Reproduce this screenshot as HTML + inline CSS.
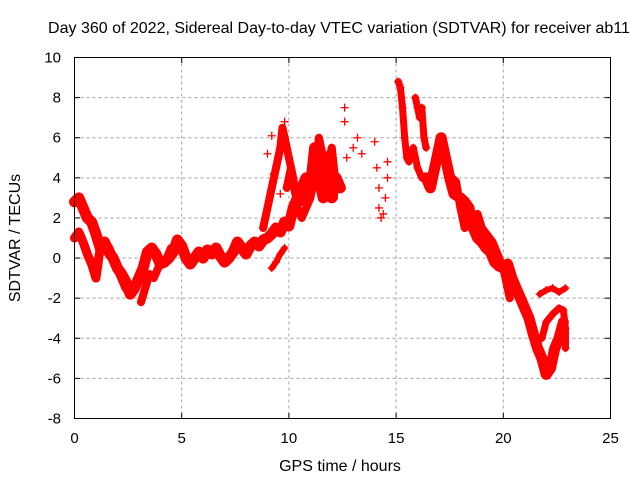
<!DOCTYPE html>
<html><head><meta charset="utf-8"><style>
body{margin:0;background:#fff}
svg{display:block;font-family:"Liberation Sans",sans-serif}
</style></head><body>
<svg id="chart" width="640" height="480">
<text x="339" y="33" text-anchor="middle" font-size="16">Day 360 of 2022, Sidereal Day-to-day VTEC variation (SDTVAR) for receiver ab11</text>
<text x="340" y="471" text-anchor="middle" font-size="16">GPS time / hours</text>
<text transform="translate(20,238) rotate(-90)" text-anchor="middle" font-size="16">SDTVAR / TECUs</text>
<g id="grid"></g>
<g id="ticks"></g>
<g id="marks"></g>
<rect x="74.5" y="57.5" width="536" height="361" fill="none" stroke="#000"/>
</svg>
<script>
const xTicks=[0,5,10,15,20,25];
const yTicks=[-8,-6,-4,-2,0,2,4,6,8,10];
const tA=[0,0.2,0.4,0.6,0.8,1.0,1.2,1.4,1.6,1.8,2.0,2.2,2.4,2.6,2.8,3.0,3.2,3.4,3.6,3.8,4.0,4.2,4.4,4.6,4.8,5.0,5.2,5.4,5.6,5.8,6.0,6.2,6.4,6.6,6.8,7.0,7.2,7.4,7.6,7.8,8.0,8.2,8.4,8.6,8.8,9.0,9.2,9.4,9.6,9.8,10.0,10.2,10.4,10.6,10.8,11.0,11.2,11.4,11.6,11.8,12.0,12.2,12.4];
const vA=[2.8,3.0,2.5,2.0,1.8,1.2,0.5,0.8,0.3,0,-0.5,-0.8,-1.2,-1.8,-1.5,-1.0,-0.5,0.3,0.5,0.2,-0.3,-0.2,0,0.3,0.9,0.6,0,-0.3,0,0.3,0,0.4,0.2,0.5,0.1,-0.2,0,0.3,0.8,0.5,0.2,0.6,0.8,0.6,0.9,1.0,1.2,1.5,1.3,1.8,1.6,2.5,3.0,3.5,4.0,3.5,5.5,4.0,3.0,4.5,3.0,4.0,3.5];
const tB=[0,0.2,0.4,0.6,0.8,1.0,1.2,1.4,1.6,1.8,2.0,2.2,2.4];
const vB=[1.0,1.3,0.8,0.2,-0.3,-1.0,0.5,0.8,0.5,0.0,-0.5,-1.0,-1.5];
const tC=[3.1,3.3,3.5,3.7,3.9,4.1,4.3,4.5];
const vC=[-2.2,-1.5,-0.8,-1.0,-0.5,-0.2,0.0,0.5];
const tD=[8.8,9.0,9.2,9.4,9.6,9.7,9.8,10.0,10.2,10.4,10.6,10.8,11.0,11.2,11.4,11.6,11.8,12.0,12.2];
const vD=[1.5,2.5,3.5,4.5,5.5,6.5,6.0,5.0,4.0,2.5,2.0,2.5,3.0,4.0,6.0,5.0,4.5,5.5,3.5];
const tD2=[9.9,10.1,10.3,10.6,10.9,11.1,11.3,11.5,11.7,11.9,12.1];
const vD2=[3.5,4.5,3.2,2.8,3.5,5.0,3.8,4.8,3.2,5.2,3.0];
const tE=[9.2,9.4,9.6,9.8];
const vE=[-0.5,-0.2,0.2,0.5];
const tS=[9.0,9.2,9.3,9.5,9.6,9.8,12.6,12.6,12.7,13.0,13.2,13.4,14.0,14.1,14.2,14.2,14.3,14.4,14.5,14.6,14.6];
const vS=[5.2,6.1,4.2,5.0,3.2,6.8,7.5,6.8,5.0,5.5,6.0,5.2,5.8,4.5,3.5,2.5,2.0,2.2,3.0,4.8,4.0];
const tF=[15.1,15.2,15.3,15.4,15.5,15.6,15.8,16.0,16.2];
const vF=[8.8,8.5,7.5,6.0,5.0,4.8,5.5,4.5,4.0];
const tF2=[15.9,16.0,16.1,16.2,16.3,16.4];
const vF2=[8.0,7.5,7.0,7.5,6.0,5.5];
const tG=[16.4,16.6,16.8,17.1,17.3,17.5,17.7,18.0,18.2,18.4,18.6,18.8,19.0,19.2,19.4,19.6,19.8,20.0,20.2,20.4,20.6,20.8,21.0,21.2,21.4,21.6,21.8,22.0,22.2,22.4,22.6,22.8];
const vG=[4.0,3.5,4.5,6.0,5.0,4.0,3.2,3.0,2.8,2.5,1.5,1.0,0.8,0.5,0.3,-0.2,-0.4,-0.5,-0.3,-1.0,-1.5,-2.0,-2.5,-3.0,-3.8,-4.5,-5.0,-5.8,-5.5,-4.5,-4.0,-3.2];
const tH=[17.6,17.8,18.0,18.2,18.5,18.8,19.0,19.5,20.0,20.3];
const vH=[4.0,3.8,2.5,1.5,1.8,2.2,1.5,0.8,-0.5,-2.0];
const tI=[21.8,22.0,22.3,22.6,22.8,22.9,22.9];
const vI=[-4.0,-3.2,-2.8,-2.5,-2.6,-3.5,-4.5];
const tJ=[21.7,22.0,22.3,22.6,22.9];
const vJ=[-1.8,-1.6,-1.5,-1.7,-1.5];
const series=[[tA,vA,11],[tB,vB,9],[tC,vC,8],[tD,vD,8],[tD2,vD2,8],[tE,vE,6],[tF,vF,7],[tF2,vF2,7],[tG,vG,11],[tH,vH,8],[tI,vI,7],[tJ,vJ,6],[tS,vS,0]];

const X=t=>74.5+t*(536/25);
const Y=v=>418.5-(v+8)*(361/18);
const NS="http://www.w3.org/2000/svg";
const grid=document.getElementById('grid'),ticks=document.getElementById('ticks'),marks=document.getElementById('marks');
function mk(tag,at,parent){const e=document.createElementNS(NS,tag);for(const k in at)e.setAttribute(k,at[k]);parent.appendChild(e);return e;}
xTicks.forEach(t=>{const x=X(t);
 if(t>0&&t<25){const l=mk('line',{x1:x,y1:57.5,x2:x,y2:418.5,stroke:'#a0a0a0','stroke-dasharray':'3,3'},grid);
 }
 const a=mk('line',{x1:x,y1:418.5,x2:x,y2:413,stroke:'#000'},ticks);
 const b=mk('line',{x1:x,y1:57.5,x2:x,y2:63,stroke:'#000'},ticks);
 const tx=mk('text',{x:x,y:443,'text-anchor':'middle','font-size':15},ticks);tx.textContent=t;
 });
yTicks.forEach(v=>{const y=Y(v);
 if(v>-8&&v<10){const l=mk('line',{x1:74.5,y1:y,x2:610.5,y2:y,stroke:'#a0a0a0','stroke-dasharray':'3,3'},grid);
 }
 const a=mk('line',{x1:74.5,y1:y,x2:80,y2:y,stroke:'#000'},ticks);
 const b=mk('line',{x1:610.5,y1:y,x2:605,y2:y,stroke:'#000'},ticks);
 const tx=mk('text',{x:61,y:y+5,'text-anchor':'end','font-size':15},ticks);tx.textContent=v;
 });
series.forEach(([ts,vs,w])=>{
 if(w>0){const p=mk('polyline',{points:ts.map((t,i)=>X(t)+','+Y(vs[i])).join(' '),fill:'none',stroke:'#f00','stroke-width':w,'stroke-linejoin':'round','stroke-linecap':'round'},marks);
 }
 ts.forEach((t,i)=>{const x=X(t),y=Y(vs[i]);
  const m=mk('path',{d:`M${x-4},${y}h8M${x},${y-4}v8`,stroke:'#f00','stroke-width':1.3},marks);
  });
});
</script>
</body></html>
